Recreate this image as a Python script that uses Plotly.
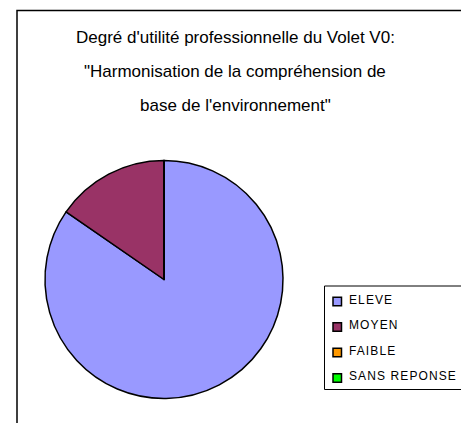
import plotly.graph_objects as go

# page body has an 8px margin, so the figure is sized to fit the window
W, H = 461, 415

labels = ["ELEVE", "MOYEN", "FAIBLE", "SANS REPONSE"]
values = [11, 2, 0, 0]
colors = ["#9999FF", "#993366", "#FF9900", "#00FF00"]
title_lines = [
    "Degré d'utilité professionnelle du Volet V0:",
    "\"Harmonisation de la compréhension de",
    "base de l'environnement\"",
]


def px(x):
    return x / W


def py(y):
    return 1 - y / H


FONT = "Liberation Sans, Arial"

fig = go.Figure()
fig.add_trace(go.Pie(
    labels=labels,
    values=values,
    marker=dict(colors=colors, line=dict(color="black", width=1.5)),
    sort=False,
    direction="clockwise",
    rotation=0,
    textinfo="none",
    hoverinfo="label+value+percent",
    showlegend=False,
    domain=dict(x=[px(37), px(275)], y=[py(390.5), py(152.5)]),
))

# title
for t, yy in zip(title_lines, [29, 64, 98]):
    fig.add_annotation(
        text=t, x=px(227), y=py(yy), xref="paper", yref="paper",
        xanchor="center", yanchor="middle", showarrow=False,
        font=dict(family=FONT, size=17, color="black"),
    )

# chart area border
fig.add_shape(type="rect", xref="paper", yref="paper",
              x0=px(9), x1=px(W + 20), y0=py(H + 20), y1=py(2.5),
              line=dict(color="black", width=1.5), fillcolor="rgba(0,0,0,0)",
              layer="below")

# legend (Excel style)
fig.add_shape(type="rect", xref="paper", yref="paper",
              x0=px(316.5), x1=px(W + 20), y0=py(381.5), y1=py(278),
              line=dict(color="black", width=1), fillcolor="white",
              layer="below")
for i, (lab, col) in enumerate(zip(labels, colors)):
    cy = 293.5 + 25.5 * i
    fig.add_shape(type="rect", xref="paper", yref="paper",
                  x0=px(325), x1=px(333.5), y0=py(cy + 4.25), y1=py(cy - 4.25),
                  line=dict(color="black", width=1.5), fillcolor=col)
    fig.add_annotation(
        text=f'<span style="letter-spacing:1.1px">{lab}</span>',
        x=px(338.5), y=py(cy - 2), xref="paper", yref="paper",
        xanchor="left", yanchor="middle", showarrow=False,
        font=dict(family=FONT, size=12, color="black"),
    )

fig.update_layout(
    width=W, height=H,
    margin=dict(l=0, r=0, t=0, b=0),
    paper_bgcolor="white",
    plot_bgcolor="white",
    showlegend=False,
)

fig.write_html("out.html")
